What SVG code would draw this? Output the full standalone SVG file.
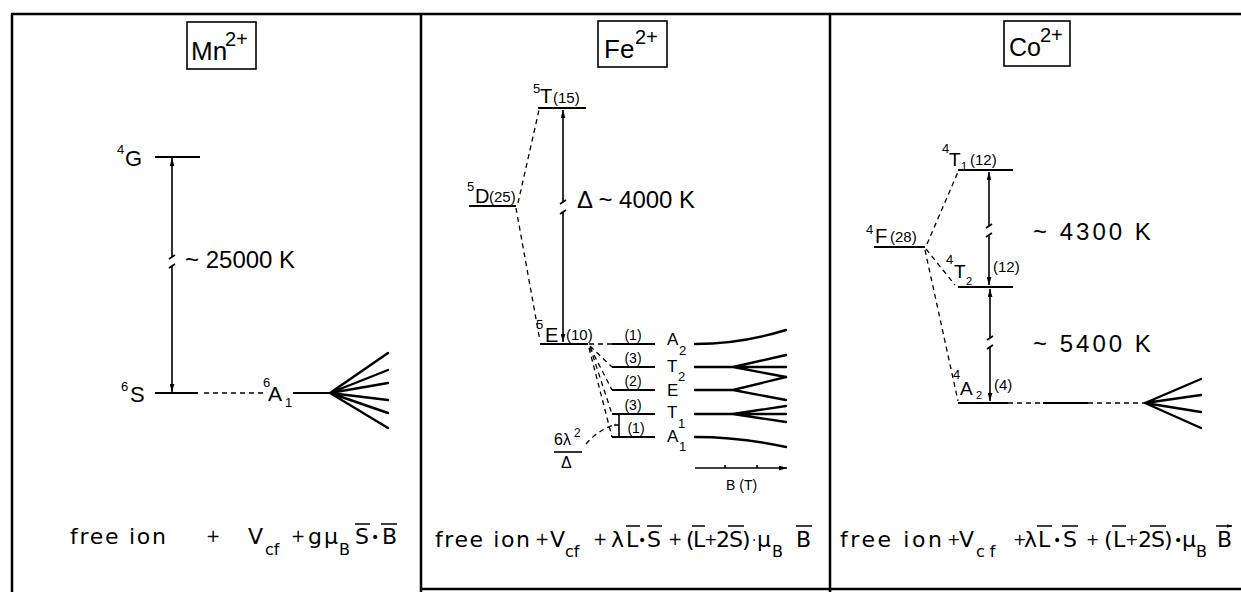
<svg xmlns="http://www.w3.org/2000/svg" width="1241" height="592" viewBox="0 0 1241 592">
<style>
 .t{font-family:"Liberation Sans",Arial,sans-serif;fill:#000}
 .fm{font-family:"DejaVu Sans","Liberation Sans",sans-serif;font-size:22px;fill:#000}
 .sub{font-size:16px}
 .sup{font-size:13px}
 .deg{font-size:15px}
 .dg{font-size:14px}
 .big{font-size:24px}
 .lv{stroke:#000;stroke-width:2.2;fill:none}
 .ln{stroke:#000;stroke-width:1.6;fill:none}
 .zl{stroke:#000;stroke-width:2.4;fill:none;stroke-linecap:round}
 .ds{stroke:#000;stroke-width:1.3;stroke-dasharray:5 4;fill:none}
 .fr{stroke:#000;stroke-width:2.5;fill:none}
 .box{stroke:#000;stroke-width:1.6;fill:none}
 .ov{stroke:#000;stroke-width:1.4;fill:none}
</style>
<defs>
 <marker id="ar" viewBox="0 0 10 6" refX="10" refY="3" markerWidth="8" markerHeight="5" orient="auto-start-reverse" markerUnits="userSpaceOnUse"><path d="M0,0 L10,3 L0,6z"/></marker>
 <marker id="va" viewBox="0 0 6 4" refX="6" refY="2" markerWidth="5" markerHeight="4" orient="auto" markerUnits="userSpaceOnUse"><path d="M0,0 L6,2 L0,4z"/></marker>
</defs>

<g id="frame">
 <path class="fr" d="M11,14 H1241 M12,14 V592 M421,14 V592 M830,14 V592 M421,589 H1241"/>
</g>

<g id="mn">
 <rect class="box" x="187" y="22" width="69" height="47"/>
 <text class="t" x="191" y="60" font-size="26">Mn</text>
 <text class="t" x="225" y="46" font-size="20">2+</text>
 <text class="t sup" x="117" y="154">4</text>
 <text class="t" x="125" y="166" font-size="22">G</text>
 <text class="t sup" x="121" y="391">6</text>
 <text class="t" x="130" y="402" font-size="22">S</text>
 <text class="t big" x="185" y="268">~ 25000 K</text>
 <text class="t sup" x="263" y="387">6</text>
 <text class="t" x="268" y="401" font-size="21">A</text>
 <text class="t" x="285" y="407" font-size="13">1</text>
</g>

<g id="fe">
 <rect class="box" x="598" y="21" width="69" height="46"/>
 <text class="t" x="604" y="58" font-size="26">Fe</text>
 <text class="t" x="635" y="44" font-size="20">2+</text>
 <text class="t sup" x="533" y="93">5</text>
 <text class="t" x="540" y="103" font-size="20">T</text>
 <text class="t deg" x="553" y="103">(15)</text>
 <text class="t sup" x="467" y="191">5</text>
 <text class="t" x="475" y="203" font-size="20">D</text>
 <text class="t deg" x="489" y="202">(25)</text>
 <text class="t big" x="577" y="208">Δ ~ 4000 K</text>
 <text class="t sup" x="536" y="329">5</text>
 <text class="t" x="545" y="342" font-size="20">E</text>
 <text class="t deg" x="566" y="340">(10)</text>
 <g class="t dg" text-anchor="middle">
  <text x="633" y="340">(1)</text>
  <text x="633" y="363">(3)</text>
  <text x="633" y="386">(2)</text>
  <text x="633" y="410">(3)</text>
  <text x="636" y="433">(1)</text>
 </g>
 <text class="t" x="667" y="345" font-size="17">A</text><text class="t" x="679" y="355" font-size="13">2</text>
 <text class="t" x="667" y="372" font-size="17">T</text><text class="t" x="678" y="381" font-size="13">2</text>
 <text class="t" x="667" y="396" font-size="17">E</text>
 <text class="t" x="667" y="418" font-size="17">T</text><text class="t" x="678" y="428" font-size="13">1</text>
 <text class="t" x="667" y="442" font-size="17">A</text><text class="t" x="679" y="451" font-size="13">1</text>
 <text class="t" x="554" y="445" font-size="16">6λ</text>
 <text class="t" x="574" y="437" font-size="12">2</text>
 <path class="ln" d="M554,452 H582"/>
 <text class="t" x="561" y="468" font-size="16">Δ</text>
 <path class="lv" d="M612,344 H655 M612,367 H655 M612,390 H655 M612,414 H655 M612,437 H655"/>
 <path class="ln" d="M619,414 V437 M619,425 h-5"/>
 <path class="zl" d="M695,344 Q740,344 786,330"/>
 <path class="zl" d="M695,367 L733,367 L786,355 M733,367 L786,367 M733,367 L786,377"/>
 <path class="zl" d="M695,390 L733,390 L786,377 M733,390 L786,400"/>
 <path class="zl" d="M695,414 L733,414 L786,406 M733,414 L786,414 M733,414 L786,422"/>
 <path class="zl" d="M695,437 Q740,437 786,447"/>
 <path class="ln" d="M695,468 H787" marker-end="url(#ar)"/>
 <path class="ln" d="M725,468 v-3 M757,468 v-3"/>
 <text class="t" x="726" y="490" font-size="14">B (T)</text>
</g>

<g id="co">
 <rect class="box" x="1004" y="21" width="66" height="45"/>
 <text class="t" x="1009" y="56" font-size="25">Co</text>
 <text class="t" x="1040" y="42" font-size="20">2+</text>
 <text class="t sup" x="942" y="153">4</text>
 <text class="t" x="949" y="166" font-size="19">T</text>
 <text class="t" x="961" y="170" font-size="11">1</text>
 <text class="t deg" x="970" y="165">(12)</text>
 <text class="t big" x="1033" y="240" letter-spacing="3">~ 4300 K</text>
 <text class="t sup" x="866" y="234">4</text>
 <text class="t" x="875" y="243" font-size="20">F</text>
 <text class="t deg" x="890" y="242">(28)</text>
 <text class="t sup" x="946" y="264">4</text>
 <text class="t" x="954" y="278" font-size="19">T</text>
 <text class="t" x="966" y="285" font-size="11">2</text>
 <text class="t deg" x="993" y="272">(12)</text>
 <text class="t big" x="1033" y="352" letter-spacing="3">~ 5400 K</text>
 <text class="t sup" x="953" y="379">4</text>
 <text class="t" x="960" y="395" font-size="19">A</text>
 <text class="t" x="976" y="399" font-size="11">2</text>
 <text class="t deg" x="994" y="390">(4)</text>
</g>

<g id="connectors">
 <path class="lv" d="M155,157 H200 M155,393 H198 M293,393 H330"/>
 <path class="ln" d="M172,158 V257" marker-start="url(#ar)"/>
 <path class="ln" d="M172,266 V392" marker-end="url(#ar)"/>
 <path class="ln" d="M169,259 L175,255 M169,268 L175,264"/>
 <path class="ds" d="M204,393 H267" stroke-dasharray="2 4 6 4 6 4 6 4 6 4"/>
 <path class="zl" d="M330,393 L388,353 M330,393 L388,370 M330,393 L388,383 M330,393 L388,400 M330,393 L388,413 M330,393 L388,428"/>
 <path class="lv" d="M538,108 H586 M469,206 H516 M540,344 H588"/>
 <path class="ds" d="M518,203 L539,110 M516,208 L540,341"/>
 <path class="ln" d="M563,110 V202" marker-start="url(#ar)"/>
 <path class="ln" d="M563,212 V342" marker-end="url(#ar)"/>
 <path class="ln" d="M560,204 L566,200 M560,214 L566,210"/>
 <path class="ds" d="M589,344 H612 M590,346 L612,367 M590,347 L612,390 M590,347 L612,414 M589,348 L612,437"/>
 <path class="ds" d="M586,444 Q598,430 616,424"/>
 <path class="lv" d="M958,170 H1013 M874,247 H925 M958,287 H1013 M958,403 H1008 M1043,403 H1088"/>
 <path class="ds" d="M927,244 L958,172 M926,249 L955,285 M925,250 L958,401 M1008,403 H1043 M1088,403 H1145"/>
 <path class="ln" d="M989,172 V226" marker-start="url(#ar)"/>
 <path class="ln" d="M989,235 V285" marker-end="url(#ar)"/>
 <path class="ln" d="M986,228 L992,224 M986,237 L992,233"/>
 <path class="ln" d="M990,289 V338" marker-start="url(#ar)"/>
 <path class="ln" d="M990,347 V401" marker-end="url(#ar)"/>
 <path class="ln" d="M987,340 L993,336 M987,349 L993,345"/>
 <path class="zl" d="M1145,403 L1201,379 M1145,403 L1201,395 M1145,403 L1201,412 M1145,403 L1201,428"/>
</g>

<g id="formulas">
 <g class="fm">
  <text x="70" y="544" textLength="96" lengthAdjust="spacing">free ion</text>
  <text x="206" y="542" font-size="17">+</text>
  <text x="248" y="544">V</text>
  <text x="265" y="555" class="sub">cf</text>
  <text x="291" y="542" font-size="17">+</text>
  <text x="308" y="544">g</text>
  <text x="324" y="544">μ</text>
  <text x="339" y="555" class="sub">B</text>
  <text x="355" y="544">S</text>
  <text x="371" y="542" font-size="14">•</text>
  <text x="382" y="544">B</text>

  <text x="435" y="547" textLength="95" lengthAdjust="spacing">free ion</text>
  <text x="535" y="545" font-size="17">+</text>
  <text x="550" y="547">V</text>
  <text x="565" y="557" class="sub">cf</text>
  <text x="593" y="545" font-size="17">+</text>
  <text x="611" y="547">λ</text>
  <text x="626" y="547">L</text>
  <text x="638" y="545" font-size="14">•</text>
  <text x="647" y="547">S</text>
  <text x="668" y="545" font-size="17">+</text>
  <text x="686" y="547">(</text>
  <text x="693" y="547">L</text>
  <text x="704" y="545" font-size="16">+</text>
  <text x="716" y="547">2</text>
  <text x="729" y="547">S</text>
  <text x="742" y="547">)</text>
  <text x="752" y="545" font-size="14">·</text>
  <text x="757" y="547">μ</text>
  <text x="772" y="557" class="sub">B</text>
  <text x="796" y="547">B</text>

  <text x="840" y="547" textLength="102" lengthAdjust="spacing">free ion</text>
  <text x="947" y="545" font-size="16">+</text>
  <text x="959" y="547">V</text>
  <text x="976" y="557" class="sub" letter-spacing="5">cf</text>
  <text x="1013" y="545" font-size="16">+</text>
  <text x="1024" y="547">λ</text>
  <text x="1038" y="547">L</text>
  <text x="1053" y="545" font-size="14">•</text>
  <text x="1063" y="547">S</text>
  <text x="1086" y="545" font-size="16">+</text>
  <text x="1104" y="547">(</text>
  <text x="1113" y="547">L</text>
  <text x="1125" y="545" font-size="16">+</text>
  <text x="1138" y="547">2</text>
  <text x="1151" y="547">S</text>
  <text x="1164" y="547">)</text>
  <text x="1174" y="545" font-size="14">•</text>
  <text x="1182" y="547">μ</text>
  <text x="1196" y="557" class="sub">B</text>
  <text x="1217" y="547">B</text>
 </g>
 <path class="ov" marker-end="url(#va)" d="M355,524 H370 M381,524 H397 M626,526 H640 M647,526 H662 M692,526 H705 M728,526 H744 M796,526 H812 M1037,526 H1052 M1062,526 H1078 M1112,526 H1126 M1150,526 H1166 M1216,526 H1232"/>
</g>
</svg>
